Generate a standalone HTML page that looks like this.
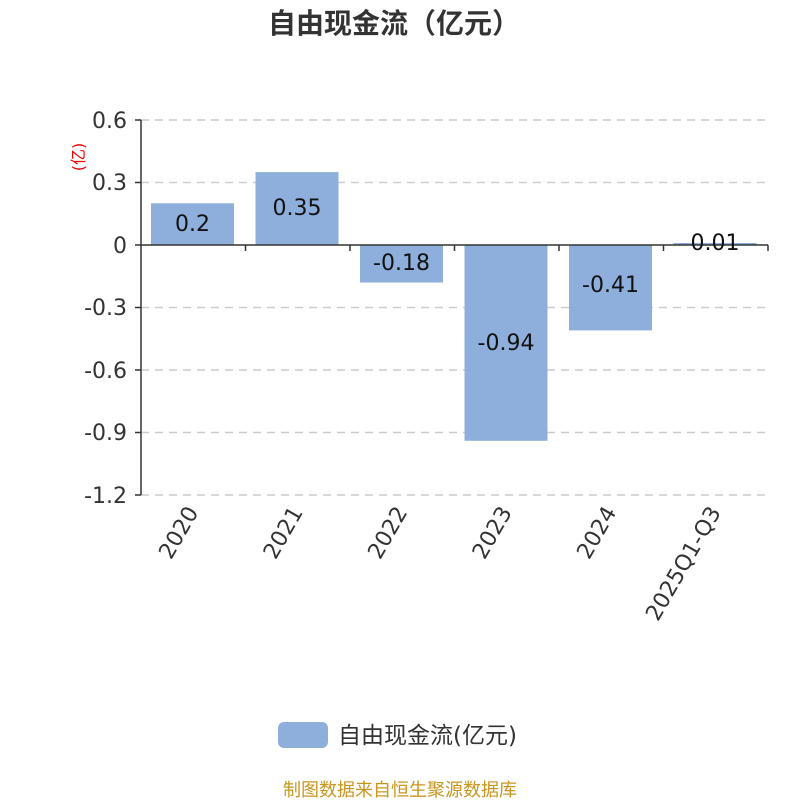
<!DOCTYPE html>
<html><head><meta charset="utf-8"><style>body{margin:0;background:#fff}svg{display:block}</style></head>
<body>
<svg width="800" height="800" xmlns="http://www.w3.org/2000/svg" font-family="DejaVu Sans, Noto Sans CJK SC, sans-serif">
<rect width="800" height="800" fill="#fff"/>
<text x="394" y="33" text-anchor="middle" font-size="28" font-weight="bold" fill="#333">自由现金流（亿元）</text>
<g stroke="#ccc" stroke-width="1.5" stroke-dasharray="8,6">
<line x1="141" y1="120" x2="768" y2="120"/>
<line x1="141" y1="182.5" x2="768" y2="182.5"/>
<line x1="141" y1="307.5" x2="768" y2="307.5"/>
<line x1="141" y1="370" x2="768" y2="370"/>
<line x1="141" y1="432.5" x2="768" y2="432.5"/>
<line x1="141" y1="495" x2="768" y2="495"/>
</g>
<g fill="#8eaedb">
<rect x="151" y="203.3" width="83" height="41.7"/>
<rect x="255.5" y="172.1" width="83" height="72.9"/>
<rect x="360" y="245" width="83" height="37.5"/>
<rect x="464.5" y="245" width="83" height="195.8"/>
<rect x="569" y="245" width="83" height="85.4"/>
<rect x="673.5" y="243" width="83" height="2"/>
</g>
<g stroke="#333" stroke-width="1.5">
<line x1="141" y1="120" x2="141" y2="495"/>
<line x1="135" y1="120" x2="141" y2="120"/>
<line x1="135" y1="182.5" x2="141" y2="182.5"/>
<line x1="135" y1="245" x2="141" y2="245"/>
<line x1="135" y1="307.5" x2="141" y2="307.5"/>
<line x1="135" y1="370" x2="141" y2="370"/>
<line x1="135" y1="432.5" x2="141" y2="432.5"/>
<line x1="135" y1="495" x2="141" y2="495"/>
<line x1="141" y1="245" x2="768" y2="245"/>
<line x1="245.5" y1="245" x2="245.5" y2="251"/>
<line x1="350" y1="245" x2="350" y2="251"/>
<line x1="454.5" y1="245" x2="454.5" y2="251"/>
<line x1="559" y1="245" x2="559" y2="251"/>
<line x1="663.5" y1="245" x2="663.5" y2="251"/>
<line x1="768" y1="245" x2="768" y2="251"/>
</g>
<g font-size="22" fill="#333" text-anchor="end">
<text x="127" y="128">0.6</text>
<text x="127" y="190">0.3</text>
<text x="127" y="253">0</text>
<text x="127" y="315">-0.3</text>
<text x="127" y="378">-0.6</text>
<text x="127" y="440">-0.9</text>
<text x="127" y="503">-1.2</text>
</g>
<text transform="translate(84,157) rotate(-90)" text-anchor="middle" font-size="16" fill="#e00">(亿)</text>
<g font-size="22" fill="#111" text-anchor="middle">
<text x="192.5" y="231">0.2</text>
<text x="297" y="215">0.35</text>
<text x="401.5" y="270">-0.18</text>
<text x="506" y="350">-0.94</text>
<text x="610.5" y="292">-0.41</text>
<text x="715" y="250">0.01</text>
</g>
<g font-size="22" fill="#333" text-anchor="end">
<text transform="translate(199,512) rotate(-60)">2020</text>
<text transform="translate(303.5,512) rotate(-60)">2021</text>
<text transform="translate(408,512) rotate(-60)">2022</text>
<text transform="translate(512.5,512) rotate(-60)">2023</text>
<text transform="translate(617,512) rotate(-60)">2024</text>
<text transform="translate(721.5,512) rotate(-60)">2025Q1-Q3</text>
</g>
<rect x="278" y="722" width="50" height="26" rx="6" fill="#8eaedb"/>
<text x="338" y="743" font-size="23" fill="#333">自由现金流(亿元)</text>
<text x="400" y="796" text-anchor="middle" font-size="18" fill="#c8961e">制图数据来自恒生聚源数据库</text>
</svg>
</body></html>
